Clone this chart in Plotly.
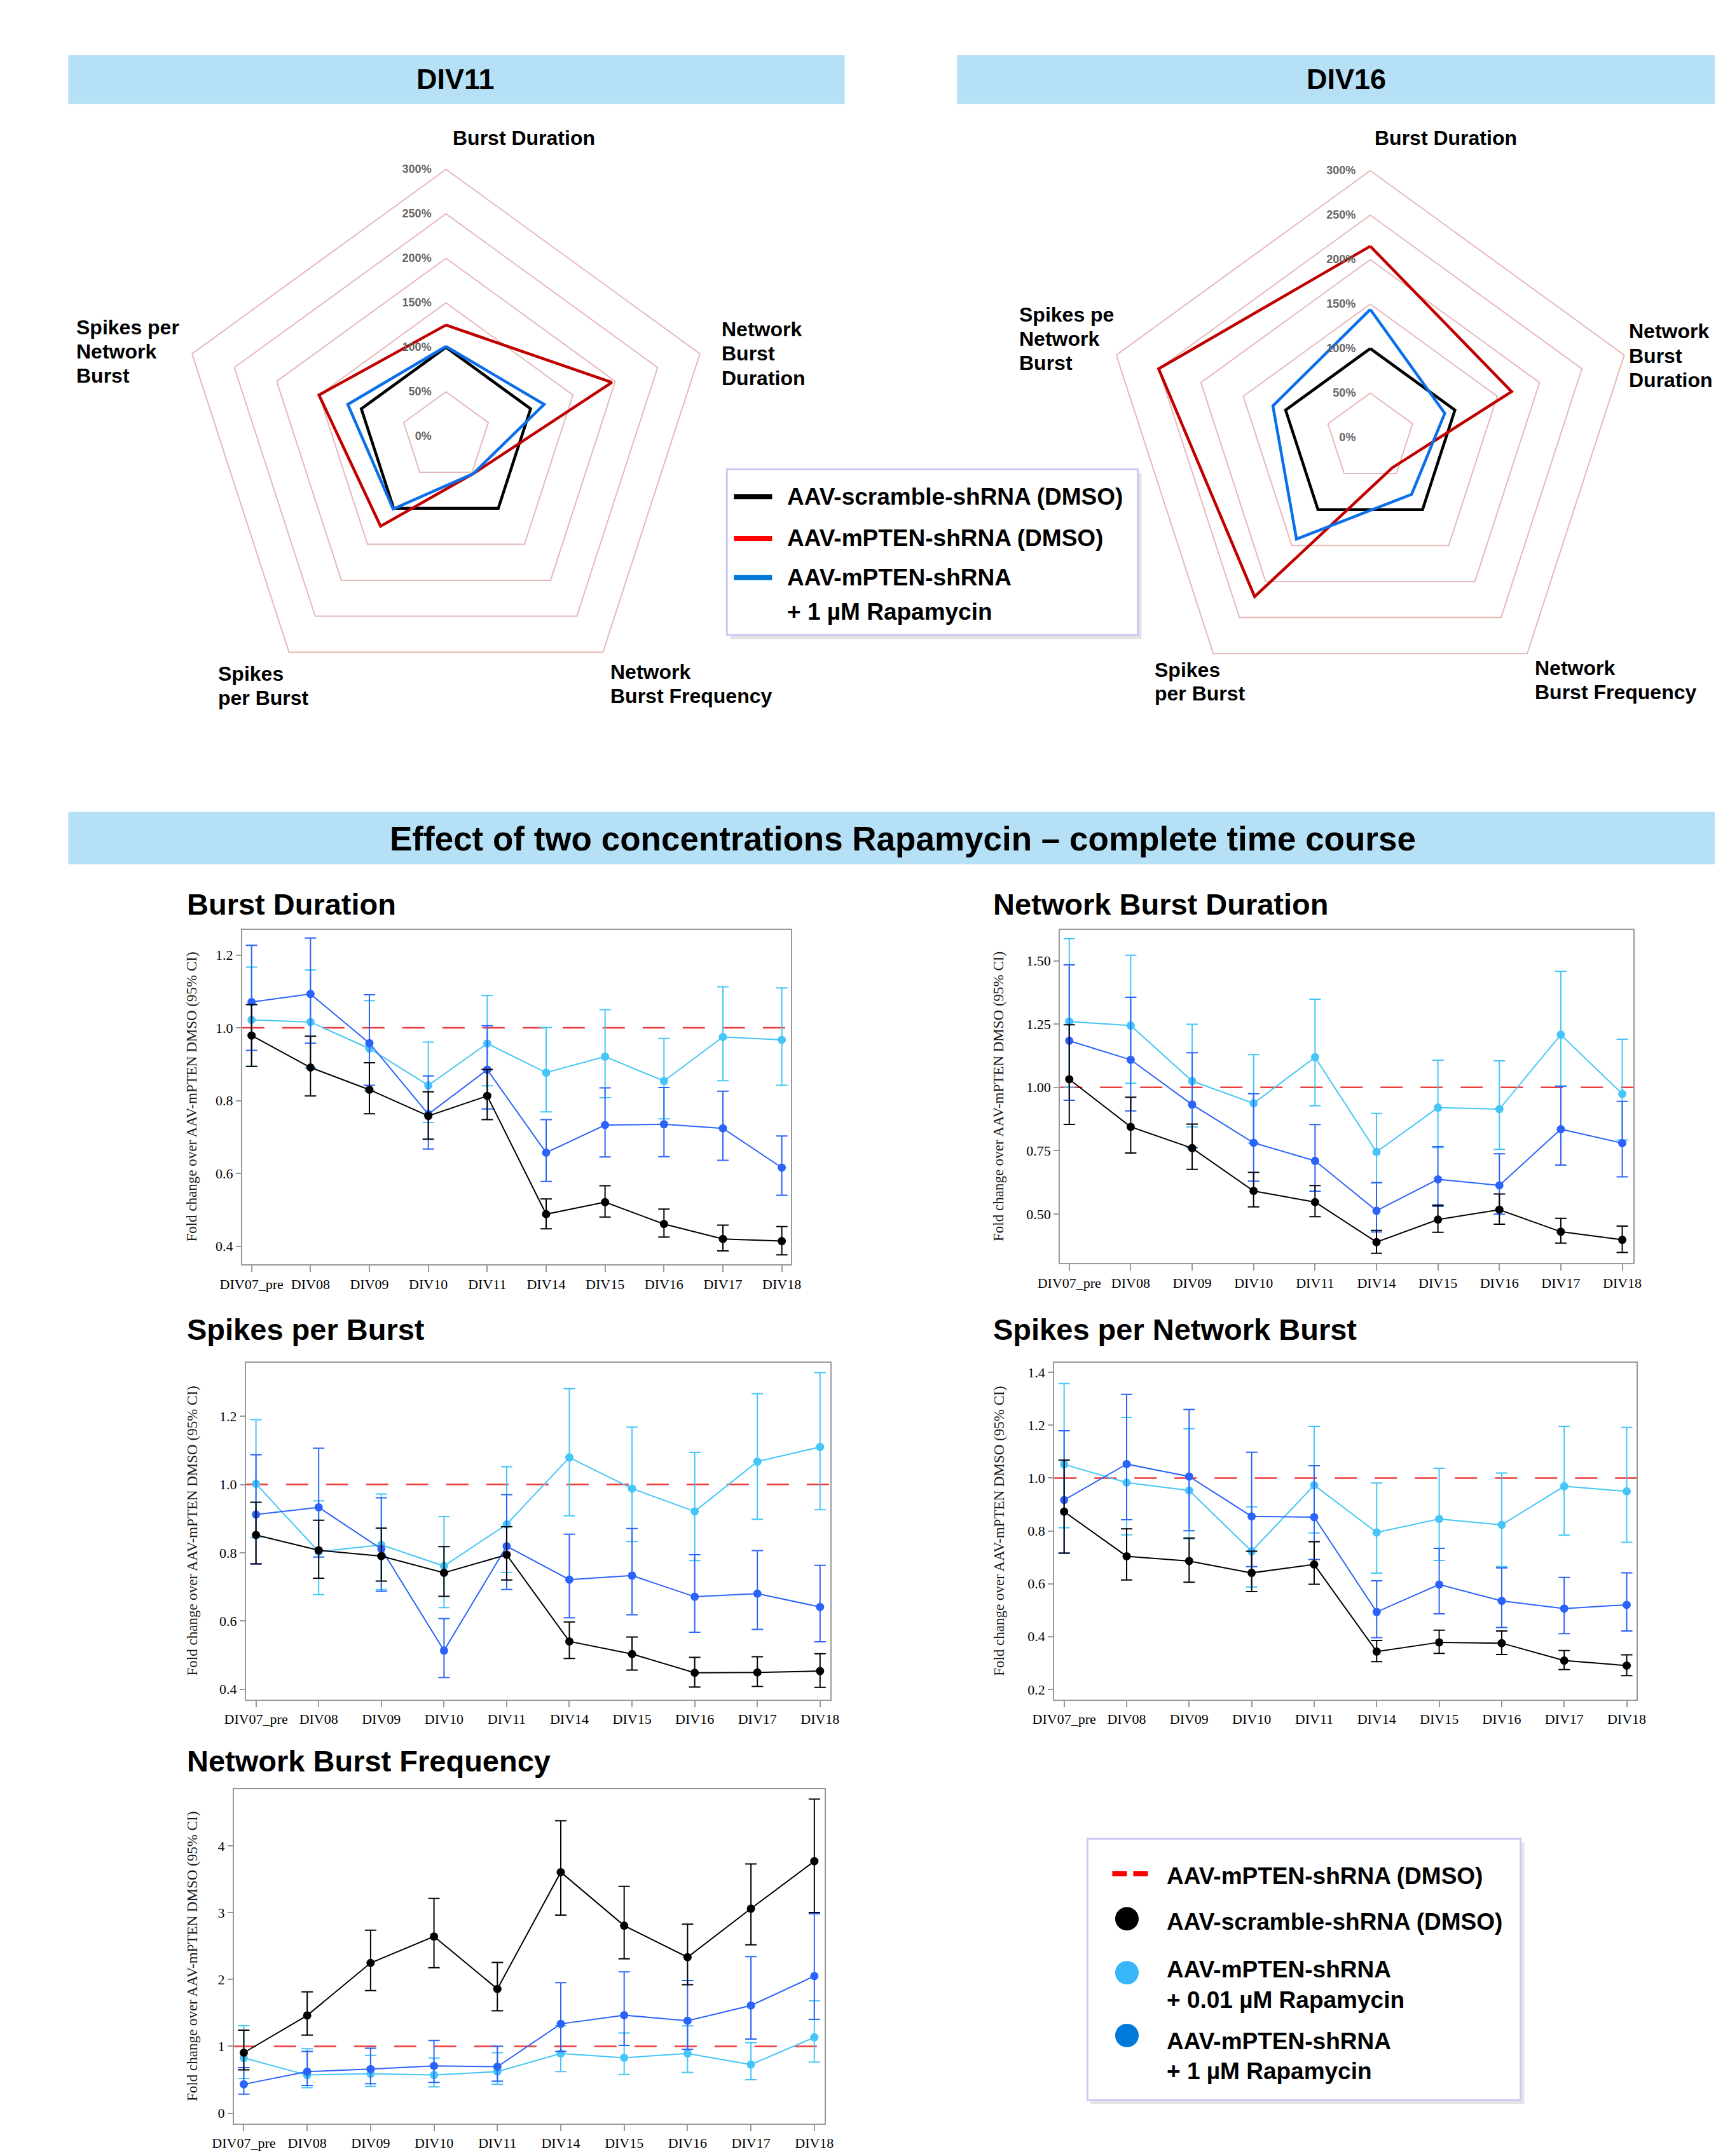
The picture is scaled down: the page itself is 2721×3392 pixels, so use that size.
import plotly.graph_objects as go

# ---------------- page geometry ----------------
W, H = 2705, 3376
# measured mapping of paper fractions to the photographed page
X0, XS = 44.8, 2648.0
Y0, YS = 8.0, 3354.0
def px(x): return (x - X0) / XS
def py(y): return 1 - (y - Y0) / YS

SANS = "Liberation Sans, Arial, Helvetica, sans-serif"
SERIF = "Liberation Serif, Times New Roman, serif"

# ---------------- radar data (% of scramble) ----------------
RADAR_AXES = ["Burst Duration", "Network Burst Duration", "Network Burst Frequency",
              "Spikes per Burst", "Spikes per Network Burst"]
RADIAL_TICKS = [0, 50, 100, 150, 200, 250, 300]
RADIAL_TEXT = ["0%", "50%", "100%", "150%", "200%", "250%", "300%"]
div11_scramble = [100, 100, 100, 100, 100]
div11_pten = [125, 196, 52, 125, 150]
div11_rapa = [101, 116, 52, 101, 116]
div16_scramble = [100, 100, 100, 100, 100]
div16_pten = [215, 167, 42, 221, 250]
div16_rapa = [144, 88, 79, 141, 115]

# ---------------- time course data ----------------
DAYS = ["DIV07_pre", "DIV08", "DIV09", "DIV10", "DIV11", "DIV14", "DIV15", "DIV16", "DIV17", "DIV18"]
REF_LEVEL = 1.0

bd_scr = [0.979, 0.891, 0.830, 0.758, 0.813, 0.488, 0.521, 0.461, 0.420, 0.414]
bd_scr_lo = [0.894, 0.813, 0.764, 0.694, 0.748, 0.448, 0.480, 0.425, 0.387, 0.376]
bd_scr_hi = [1.064, 0.977, 0.904, 0.824, 0.886, 0.530, 0.566, 0.502, 0.458, 0.454]
bd_low = [1.022, 1.016, 0.943, 0.842, 0.957, 0.877, 0.921, 0.854, 0.975, 0.967]
bd_low_lo = [0.894, 0.890, 0.827, 0.740, 0.841, 0.769, 0.808, 0.750, 0.855, 0.842]
bd_low_hi = [1.167, 1.159, 1.075, 0.961, 1.089, 1.001, 1.050, 0.971, 1.113, 1.110]
bd_high = [1.071, 1.093, 0.958, 0.763, 0.885, 0.657, 0.733, 0.735, 0.724, 0.616]
bd_high_lo = [0.938, 0.958, 0.842, 0.667, 0.777, 0.578, 0.645, 0.646, 0.636, 0.540]
bd_high_hi = [1.227, 1.247, 1.091, 0.868, 1.006, 0.748, 0.835, 0.836, 0.826, 0.703]

nbd_scr = [1.032, 0.844, 0.760, 0.591, 0.547, 0.389, 0.478, 0.517, 0.430, 0.398]
nbd_scr_lo = [0.854, 0.741, 0.676, 0.528, 0.489, 0.345, 0.428, 0.460, 0.385, 0.348]
nbd_scr_hi = [1.247, 0.961, 0.855, 0.664, 0.612, 0.435, 0.535, 0.579, 0.483, 0.452]
nbd_low = [1.260, 1.244, 1.025, 0.937, 1.119, 0.745, 0.920, 0.914, 1.208, 0.974]
nbd_low_lo = [1.000, 1.016, 0.844, 0.780, 0.927, 0.623, 0.762, 0.755, 1.005, 0.792]
nbd_low_hi = [1.587, 1.522, 1.249, 1.129, 1.348, 0.897, 1.107, 1.105, 1.458, 1.190]
nbd_high = [1.184, 1.109, 0.932, 0.781, 0.710, 0.513, 0.637, 0.613, 0.835, 0.780]
nbd_high_lo = [0.949, 0.907, 0.762, 0.630, 0.590, 0.429, 0.530, 0.499, 0.693, 0.647]
nbd_high_hi = [1.484, 1.356, 1.137, 0.975, 0.853, 0.624, 0.766, 0.738, 1.005, 0.945]

spb_scr = [0.852, 0.807, 0.790, 0.741, 0.794, 0.540, 0.503, 0.448, 0.449, 0.453]
spb_scr_lo = [0.767, 0.725, 0.717, 0.672, 0.720, 0.490, 0.456, 0.406, 0.408, 0.405]
spb_scr_hi = [0.948, 0.895, 0.872, 0.818, 0.876, 0.597, 0.553, 0.493, 0.495, 0.504]
spb_low = [1.002, 0.803, 0.823, 0.761, 0.883, 1.079, 0.988, 0.921, 1.067, 1.110]
spb_low_lo = [0.844, 0.677, 0.692, 0.639, 0.742, 0.908, 0.833, 0.777, 0.898, 0.926]
spb_low_hi = [1.190, 0.952, 0.972, 0.906, 1.052, 1.281, 1.168, 1.094, 1.266, 1.328]
spb_high = [0.912, 0.933, 0.811, 0.513, 0.819, 0.721, 0.733, 0.671, 0.680, 0.641]
spb_high_lo = [0.767, 0.787, 0.687, 0.434, 0.692, 0.609, 0.618, 0.567, 0.575, 0.539]
spb_high_hi = [1.087, 1.106, 0.961, 0.607, 0.970, 0.854, 0.871, 0.794, 0.806, 0.763]

spnb_scr = [0.873, 0.704, 0.686, 0.641, 0.673, 0.343, 0.378, 0.375, 0.309, 0.290]
spnb_scr_lo = [0.716, 0.614, 0.606, 0.570, 0.598, 0.305, 0.336, 0.332, 0.275, 0.252]
spnb_scr_hi = [1.068, 0.808, 0.773, 0.723, 0.759, 0.385, 0.424, 0.421, 0.347, 0.331]
spnb_low = [1.052, 0.983, 0.953, 0.723, 0.973, 0.794, 0.845, 0.823, 0.969, 0.950]
spnb_low_lo = [0.812, 0.785, 0.770, 0.588, 0.792, 0.640, 0.688, 0.665, 0.784, 0.757]
spnb_low_hi = [1.358, 1.230, 1.187, 0.891, 1.196, 0.981, 1.037, 1.019, 1.196, 1.192]
spnb_high = [0.917, 1.053, 1.006, 0.855, 0.852, 0.493, 0.597, 0.535, 0.506, 0.520]
spnb_high_lo = [0.716, 0.842, 0.801, 0.665, 0.692, 0.396, 0.486, 0.434, 0.411, 0.421]
spnb_high_hi = [1.179, 1.317, 1.260, 1.098, 1.047, 0.611, 0.734, 0.660, 0.624, 0.641]

nbf_scr = [0.904, 1.462, 2.248, 2.644, 1.859, 3.607, 2.806, 2.334, 3.061, 3.771]
nbf_scr_lo = [0.648, 1.167, 1.835, 2.177, 1.532, 2.963, 2.310, 1.921, 2.519, 3.003]
nbf_scr_hi = [1.242, 1.815, 2.739, 3.214, 2.255, 4.377, 3.395, 2.829, 3.729, 4.700]
nbf_low = [0.825, 0.570, 0.589, 0.570, 0.621, 0.892, 0.829, 0.892, 0.727, 1.134]
nbf_low_lo = [0.519, 0.381, 0.401, 0.393, 0.432, 0.621, 0.578, 0.609, 0.499, 0.764]
nbf_low_hi = [1.308, 0.963, 0.864, 0.825, 0.904, 1.308, 1.198, 1.305, 1.053, 1.681]
nbf_high = [0.432, 0.621, 0.660, 0.707, 0.695, 1.336, 1.466, 1.383, 1.611, 2.051]
nbf_high_lo = [0.283, 0.413, 0.440, 0.460, 0.479, 0.923, 1.014, 0.955, 1.108, 1.404]
nbf_high_hi = [0.680, 0.923, 0.971, 1.088, 1.002, 1.953, 2.114, 1.984, 2.342, 2.984]

# ---------------- colours ----------------
BAND = "#B6E0F5"
PINK = "#E6B8B8"
R_BLACK, R_RED, R_BLUE = "#000000", "#C00000", "#0B6FEA"
L_RED, L_BLUE = "#FF0000", "#0078D7"
C_SCR, C_LOW, C_HIGH, C_REF = "#000000", "#45C6F7", "#2B63FA", "#EE3B3B"
LG_LOW, LG_HIGH = "#38B6F8", "#0079D9"
FRAME = "#999999"
LAV = "#C9C9F5"

fig = go.Figure()
shapes = []
annotations = []

def text(x, y, s, size, xanchor="left", bold=True, color="black", family=SANS, angle=0):
    annotations.append(dict(
        x=px(x), y=py(y), xref="paper", yref="paper", xanchor=xanchor, yanchor="middle",
        text=("<b>%s</b>" % s) if bold else s, showarrow=False, textangle=angle,
        font=dict(family=family, size=size, color=color)))

def rect(x0, y0, x1, y1, fill, line=None, lw=0, layer="below"):
    shapes.append(dict(type="rect", xref="paper", yref="paper",
                       x0=px(x0), x1=min(px(x1), 1.0), y0=py(y1), y1=py(y0),
                       fillcolor=fill, line=dict(color=line or fill, width=lw), layer=layer))

# ---------------- header bands ----------------
rect(108, 87, 1327, 164, BAND)
rect(1503, 87, 2721, 164, BAND)
text(716, 125, "DIV11", 45, "center")
text(2114, 125, "DIV16", 45, "center")
rect(108, 1280, 2721, 1363, BAND)
text(1418, 1323, "Effect of two concentrations Rapamycin \u2013 complete time course", 53, "center")

# ---------------- radars ----------------
R = 421
radars = [
    ("polar", 701, 688, div11_scramble, div11_pten, div11_rapa),
    ("polar2", 2152, 690, div16_scramble, div16_pten, div16_rapa),
]
for name, cx, cy, scr, pten, rapa in radars:
    for vals, col in ((scr, R_BLACK), (pten, R_RED), (rapa, R_BLUE)):
        fig.add_trace(go.Scatterpolar(
            r=list(vals) + [vals[0]], theta=RADAR_AXES + [RADAR_AXES[0]],
            mode="lines", line=dict(color=col, width=4.5), subplot=name,
            showlegend=False, hoverinfo="skip"))
    fig.layout[name] = dict(
        domain=dict(x=[px(cx - R), px(cx + R)], y=[py(cy + R), py(cy - R)]),
        bgcolor="rgba(0,0,0,0)", gridshape="linear",
        angularaxis=dict(rotation=90, direction="clockwise", showticklabels=False, ticks="",
                         showgrid=False, showline=True, linecolor=PINK, linewidth=2,
                         categoryorder="array", categoryarray=RADAR_AXES),
        radialaxis=dict(range=[0, 300], tickvals=RADIAL_TICKS, ticktext=RADIAL_TEXT, showline=False,
                        ticks="outside", ticklen=16, tickcolor="rgba(0,0,0,0)",
                        gridcolor=PINK, gridwidth=2, angle=90, side="counterclockwise",
                        tickangle=90, tickfont=dict(family=SANS, size=18, color="#666666", weight="bold")))

def lines(x, ys, strs, size=32):
    for y, s in zip(ys, strs):
        text(x, y, s, size)

# radar 1 labels
lines(710, [218], ["Burst Duration"])
lines(1132, [519, 557, 596], ["Network", "Burst", "Duration"])
lines(957, [1060, 1098], ["Network", "Burst Frequency"])
lines(341, [1063, 1101], ["Spikes", "per Burst"])
lines(119, [516, 554, 592], ["Spikes per", "Network", "Burst"])
# radar 2 labels
lines(2157, [218], ["Burst Duration"])
lines(2556, [522, 561, 599], ["Network", "Burst", "Duration"])
lines(2408, [1053, 1092], ["Network", "Burst Frequency"])
lines(1811, [1056, 1094], ["Spikes", "per Burst"])
lines(1599, [496, 534, 572], ["Spikes pe", "Network", "Burst"])

# radar legend
rect(1147, 746, 1793, 1008, "#E4E4E4", layer="above")
rect(1142, 740, 1787, 1001, "white", LAV, 3, layer="above")
for y, col in ((783, R_BLACK), (849, L_RED), (911, L_BLUE)):
    shapes.append(dict(type="line", xref="paper", yref="paper", x0=px(1153), x1=px(1213),
                       y0=py(y), y1=py(y), line=dict(color=col, width=8), layer="above"))
lines(1235, [783, 849, 911, 965],
      ["AAV-scramble-shRNA (DMSO)", "AAV-mPTEN-shRNA (DMSO)", "AAV-mPTEN-shRNA", "+ 1 \u00b5M Rapamycin"], 37)

# ---------------- time-course panels ----------------
panels = [
    dict(title="Burst Duration", tx=292, ty=1426, box=(381, 1466, 1243, 1994),
         xr=[-0.16, 9.16], yr=[0.35, 1.27], tv=[0.4, 0.6, 0.8, 1.0, 1.2], fmt=".1f", ytx=302,
         data=[(bd_low, bd_low_lo, bd_low_hi, C_LOW), (bd_high, bd_high_lo, bd_high_hi, C_HIGH),
               (bd_scr, bd_scr_lo, bd_scr_hi, C_SCR)]),
    dict(title="Network Burst Duration", tx=1558, ty=1426, box=(1665, 1466, 2565, 1992),
         xr=[-0.15, 9.18], yr=[0.306, 1.623], tv=[0.5, 0.75, 1.0, 1.25, 1.5], fmt=".2f", ytx=1569,
         data=[(nbd_low, nbd_low_lo, nbd_low_hi, C_LOW), (nbd_high, nbd_high_lo, nbd_high_hi, C_HIGH),
               (nbd_scr, nbd_scr_lo, nbd_scr_hi, C_SCR)]),
    dict(title="Spikes per Burst", tx=292, ty=2096, box=(387, 2149, 1304, 2680),
         xr=[-0.16, 9.16], yr=[0.37, 1.357], tv=[0.4, 0.6, 0.8, 1.0, 1.2], fmt=".1f", ytx=303,
         data=[(spb_low, spb_low_lo, spb_low_hi, C_LOW), (spb_high, spb_high_lo, spb_high_hi, C_HIGH),
               (spb_scr, spb_scr_lo, spb_scr_hi, C_SCR)]),
    dict(title="Spikes per Network Burst", tx=1558, ty=2096, box=(1656, 2149, 2570, 2680),
         xr=[-0.157, 9.157], yr=[0.162, 1.437], tv=[0.2, 0.4, 0.6, 0.8, 1.0, 1.2, 1.4], fmt=".1f", ytx=1570,
         data=[(spnb_low, spnb_low_lo, spnb_low_hi, C_LOW), (spnb_high, spnb_high_lo, spnb_high_hi, C_HIGH),
               (spnb_scr, spnb_scr_lo, spnb_scr_hi, C_SCR)]),
    dict(title="Network Burst Frequency", tx=292, ty=2777, box=(368, 2822, 1295, 3349),
         xr=[-0.157, 9.158], yr=[-0.157, 4.845], tv=[0, 1, 2, 3, 4], fmt="d", ytx=302,
         data=[(nbf_low, nbf_low_lo, nbf_low_hi, C_LOW), (nbf_high, nbf_high_lo, nbf_high_hi, C_HIGH),
               (nbf_scr, nbf_scr_lo, nbf_scr_hi, C_SCR)]),
]

for i, p in enumerate(panels, start=1):
    sfx = "" if i == 1 else str(i)
    xa, ya = "x" + sfx, "y" + sfx
    x0, y0, x1, y1 = p["box"]
    for vals, lo, hi, col in p["data"]:
        fig.add_trace(go.Scatter(
            x=DAYS, y=vals, mode="lines+markers", xaxis=xa, yaxis=ya, showlegend=False,
            line=dict(color=col, width=2), marker=dict(color=col, size=13),
            error_y=dict(type="data", symmetric=False,
                         array=[h - v for h, v in zip(hi, vals)],
                         arrayminus=[v - l for v, l in zip(vals, lo)],
                         color=col, thickness=2, width=9)))
    common = dict(showline=True, mirror=True, linecolor=FRAME, linewidth=2, showgrid=False,
                  zeroline=False, ticks="outside", tickcolor=FRAME, tickwidth=1.5,
                  tickfont=dict(family=SERIF, size=22, color="black"))
    fig.layout["xaxis" + sfx] = dict(common, domain=[px(x0), px(x1)], anchor=ya, type="category",
                                     categoryorder="array", categoryarray=DAYS, range=p["xr"], ticklen=10)
    fig.layout["yaxis" + sfx] = dict(common, domain=[py(y1), py(y0)], anchor=xa, range=p["yr"],
                                     tickvals=p["tv"], tickformat=p["fmt"], ticklen=8)
    shapes.append(dict(type="line", xref=xa + " domain", yref=ya, x0=0, x1=1,
                       y0=REF_LEVEL, y1=REF_LEVEL, layer="below",
                       line=dict(color=C_REF, width=2.5, dash="35px,28px")))
    text(p["tx"], p["ty"], p["title"], 47)
    text(p["ytx"], (y0 + y1) / 2, "Fold change over AAV-mPTEN DMSO (95% CI)", 23, "center",
         bold=False, color="#1a1a1a", family=SERIF, angle=-90)

# bottom legend
rect(1713, 2906, 2394, 3318, "#E4E4E4", layer="above")
rect(1708, 2900, 2388, 3312, "white", LAV, 3, layer="above")
shapes.append(dict(type="line", xref="paper", yref="paper", x0=px(1747), x1=px(1803),
                   y0=py(2955), y1=py(2955), layer="above",
                   line=dict(color=L_RED, width=8, dash="23px,10px")))
for y, col in ((3026, C_SCR), (3111, LG_LOW), (3210, LG_HIGH)):
    shapes.append(dict(type="circle", xref="paper", yref="paper", x0=px(1751.5), x1=px(1788.5),
                       y0=py(y + 18.5), y1=py(y - 18.5), fillcolor=col, line=dict(color=col, width=0),
                       layer="above"))
lines(1830, [2959, 3031, 3106, 3154, 3219, 3266],
      ["AAV-mPTEN-shRNA (DMSO)", "AAV-scramble-shRNA (DMSO)", "AAV-mPTEN-shRNA",
       "+ 0.01 \u00b5M Rapamycin", "AAV-mPTEN-shRNA", "+ 1 \u00b5M Rapamycin"], 37)

fig.update_layout(width=W, height=H, margin=dict(l=0, r=0, t=0, b=0),
                  paper_bgcolor="white", plot_bgcolor="white",
                  shapes=shapes, annotations=annotations, showlegend=False)
fig.write_html("out.html")
